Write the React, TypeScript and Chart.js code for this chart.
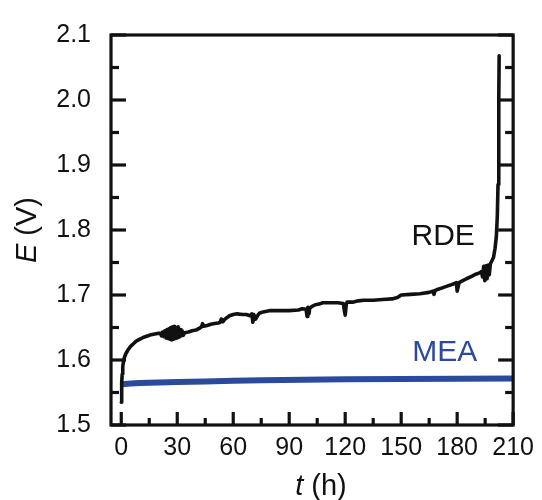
import React, { useEffect, useRef } from 'react';
import { Chart, registerables } from 'chart.js';

Chart.register(...registerables);

// RDE: time (h) and potential E (V)
const rdeT = [
  0, 0.15, 0.3, 0.5, 0.8, 1.2, 1.8, 2.5, 3.5, 5, 6.5, 8, 10, 12, 14, 16, 18, 20, 21,
  21.6, 22.2, 22.8, 23.4, 24, 24.5, 25, 25.5, 26, 26.5, 27, 27.5, 28, 28.5, 29, 29.5, 30, 30.5, 31, 31.5, 32, 32.6, 33.2, 34,
  36, 38, 40, 42, 43, 43.6, 44.2, 46, 48, 50, 52, 53, 53.6, 54.5, 55, 56, 58, 60, 62, 65, 67,
  69, 70, 70.5, 71, 72, 73, 74, 76, 78, 80, 85, 90, 95, 97, 99, 99.6, 100, 100.6, 101, 102,
  104, 106, 108, 112, 116, 119, 119.6, 120, 120.6, 121, 124, 127, 130, 135, 140, 145, 148,
  150, 155, 160, 165, 167, 167.6, 168.2, 169, 172, 175, 178, 179.6, 180, 180.5, 181, 183,
  185, 188, 190, 192, 193, 193.6, 194.2, 194.8, 195.4, 196, 196.6, 197.2, 197.8, 198.5,
  199.5, 200.3, 201, 201.5, 201.9, 202.2, 202.4, 202.5,
];
const rdeE = [
  1.535, 1.548, 1.565, 1.578, 1.590, 1.598, 1.605, 1.610, 1.615, 1.621, 1.625, 1.629, 1.632, 1.635, 1.637, 1.639, 1.640, 1.641, 1.641,
  1.637, 1.643, 1.636, 1.645, 1.634, 1.647, 1.633, 1.648, 1.632, 1.650, 1.631, 1.651, 1.632, 1.652, 1.633, 1.650, 1.634, 1.651, 1.635, 1.647, 1.637, 1.645, 1.638, 1.642,
  1.643, 1.645, 1.646, 1.649, 1.651, 1.656, 1.652, 1.653, 1.655, 1.656, 1.657, 1.658, 1.663, 1.659, 1.661, 1.664, 1.668, 1.670, 1.671, 1.670, 1.670,
  1.668, 1.671, 1.658, 1.670, 1.663, 1.668, 1.672, 1.674, 1.675, 1.676, 1.676, 1.676, 1.677, 1.679, 1.678, 1.667, 1.681, 1.671, 1.680, 1.682,
  1.685, 1.686, 1.688, 1.688, 1.688, 1.687, 1.675, 1.669, 1.686, 1.689, 1.689, 1.691, 1.692, 1.692, 1.693, 1.694, 1.696,
  1.700, 1.701, 1.702, 1.704, 1.706, 1.701, 1.707, 1.708, 1.711, 1.714, 1.717, 1.719, 1.706, 1.712, 1.719, 1.722,
  1.725, 1.729, 1.732, 1.734, 1.736, 1.728, 1.744, 1.722, 1.745, 1.725, 1.746, 1.731, 1.748, 1.752,
  1.758, 1.772, 1.790, 1.820, 1.870, 1.930, 2.000, 2.068,
];

// MEA: time (h) and potential E (V)
const meaT = [0, 2, 5, 10, 20, 30, 45, 60, 75, 98, 120, 150, 180, 210];
const meaE = [1.5625, 1.5632, 1.5638, 1.5645, 1.5653, 1.566, 1.567, 1.568, 1.5688, 1.5697, 1.5702, 1.5708, 1.5712, 1.5715];

const seriesNames = ['RDE', 'MEA'];
const seriesColors = ['#111111', '#2b4a9b'];

const xMajor = [0, 30, 60, 90, 120, 150, 180, 210];
const xMinor = [15, 45, 75, 105, 135, 165, 195];
const yMajor = [1.5, 1.6, 1.7, 1.8, 1.9, 2.0, 2.1];
const yMinor = [1.55, 1.65, 1.75, 1.85, 1.95, 2.05];

const FONT = "'Liberation Sans', Arial, sans-serif";

const framePlugin = {
  id: 'frame',
  afterDatasetsDraw(chart: any) {
    const { ctx, chartArea, scales } = chart;
    const { left, right, top, bottom } = chartArea;
    const xs = scales.x;
    const ys = scales.y;
    ctx.save();
    ctx.strokeStyle = '#111';
    ctx.lineWidth = 3.2;
    ctx.lineCap = 'butt';
    ctx.strokeRect(left, top, right - left, bottom - top);
    const seg = (x1: number, y1: number, x2: number, y2: number) => {
      ctx.beginPath();
      ctx.moveTo(x1, y1);
      ctx.lineTo(x2, y2);
      ctx.stroke();
    };
    yMajor.forEach((v) => {
      const p = ys.getPixelForValue(v);
      seg(left, p, left + 15, p);
      seg(right, p, right - 15, p);
    });
    yMinor.forEach((v) => {
      const p = ys.getPixelForValue(v);
      seg(left, p, left + 8, p);
      seg(right, p, right - 8, p);
    });
    xMajor.forEach((v) => {
      const p = xs.getPixelForValue(v);
      seg(p, bottom, p, bottom - 13);
    });
    xMinor.forEach((v) => {
      const p = xs.getPixelForValue(v);
      seg(p, bottom, p, bottom - 7);
    });

    // series labels
    ctx.font = `30px ${FONT}`;
    ctx.textAlign = 'center';
    ctx.textBaseline = 'middle';
    ctx.fillStyle = seriesColors[0];
    ctx.fillText(seriesNames[0], xs.getPixelForValue(172.5), ys.getPixelForValue(1.79));
    ctx.fillStyle = seriesColors[1];
    ctx.fillText(seriesNames[1], xs.getPixelForValue(173.3), ys.getPixelForValue(1.611));

    // axis titles with italic symbols
    const drawMixed = (cx: number, cy: number, sym: string, rest: string, rot: number) => {
      ctx.save();
      ctx.translate(cx, cy);
      ctx.rotate(rot);
      ctx.fillStyle = '#111';
      ctx.textBaseline = 'middle';
      ctx.textAlign = 'left';
      ctx.font = `italic 29px ${FONT}`;
      const w1 = ctx.measureText(sym).width;
      ctx.font = `29px ${FONT}`;
      const w2 = ctx.measureText(rest).width;
      const start = -(w1 + w2) / 2;
      ctx.font = `italic 29px ${FONT}`;
      ctx.fillText(sym, start, 0);
      ctx.font = `29px ${FONT}`;
      ctx.fillText(rest, start + w1, 0);
      ctx.restore();
    };
    drawMixed(27.5, 230, 'E', ' (V)', -Math.PI / 2);
    drawMixed(321, 487, 't', ' (h)', 0);
    ctx.restore();
  },
};

export default function App() {
  const ref = useRef<HTMLCanvasElement>(null);
  useEffect(() => {
    if (!ref.current) return;
    const chart = new Chart(ref.current, {
      type: 'line',
      data: {
        datasets: [
          {
            label: seriesNames[0],
            data: rdeT.map((t, i) => ({ x: t, y: rdeE[i] })),
            borderColor: seriesColors[0],
            borderWidth: 3.6,
            borderJoinStyle: 'round',
            borderCapStyle: 'round',
            pointRadius: 0,
            tension: 0,
            order: 1,
          },
          {
            label: seriesNames[1],
            data: meaT.map((t, i) => ({ x: t, y: meaE[i] })),
            borderColor: seriesColors[1],
            borderWidth: 6,
            pointRadius: 0,
            tension: 0,
            order: 2,
          },
        ],
      },
      options: {
        animation: false,
        responsive: false,
        events: [],
        layout: { padding: { top: 32, right: 24, left: 0, bottom: 0 } },
        plugins: { legend: { display: false }, tooltip: { enabled: false } },
        scales: {
          x: {
            type: 'linear',
            min: -5.5,
            max: 210,
            afterBuildTicks: (s: any) => {
              s.ticks = xMajor.map((v) => ({ value: v }));
            },
            afterFit: (s: any) => {
              s.height = 75;
            },
            grid: { display: false, drawTicks: false },
            border: { display: false },
            ticks: {
              font: { family: FONT, size: 25 },
              color: '#111',
              padding: 8,
              maxRotation: 0,
              autoSkip: false,
              callback: (v: any) => String(v),
            },
          },
          y: {
            type: 'linear',
            min: 1.5,
            max: 2.1,
            afterBuildTicks: (s: any) => {
              s.ticks = yMajor.map((v) => ({ value: v }));
            },
            afterFit: (s: any) => {
              s.width = 111;
            },
            grid: { display: false, drawTicks: false },
            border: { display: false },
            ticks: {
              font: { family: FONT, size: 25 },
              color: '#111',
              padding: 20,
              autoSkip: false,
              callback: (v: any) => Number(v).toFixed(1),
            },
          },
        },
      },
      plugins: [framePlugin],
    });
    return () => chart.destroy();
  }, []);
  return (
    <div style={{ position: 'fixed', left: 0, top: 0, width: 542, height: 500, background: '#fff' }}>
      <canvas ref={ref} width={542} height={500} style={{ display: 'block' }} />
    </div>
  );
}
